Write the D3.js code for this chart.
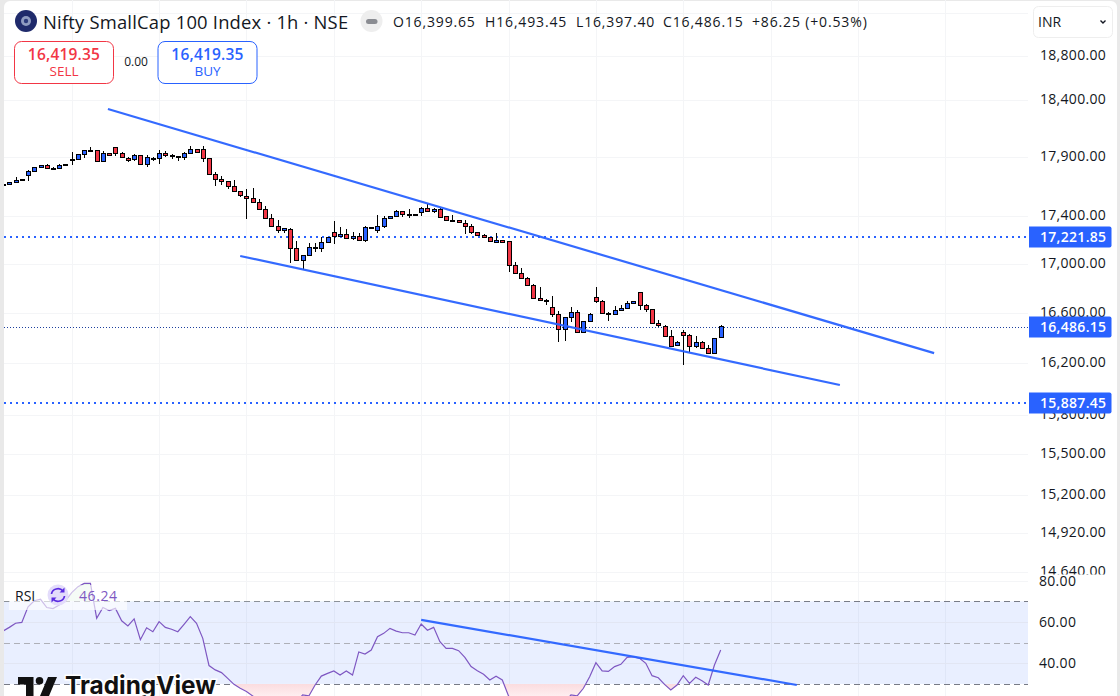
<!DOCTYPE html>
<html>
<head>
<meta charset="utf-8">
<script src="https://cdn.jsdelivr.net/npm/d3@7"></script>
<style>
    html, body { margin: 0; padding: 0; background: #e9e9e9; overflow: hidden; }
    svg { display: block; font-family: "Open Sans", "Noto Sans", sans-serif; }
    .axis path, .axis line { display: none; }
    .axis text { font-size: 14px; fill: #131722; letter-spacing: 0.3px; font-family: "Open Sans", sans-serif; }
</style>
</head>
<body>
<div id="chart"></div>
<script>
// candles
var opens = [17658,17655,17672,17700,17732,17766,17801,17821,17796,17792,17818,17872,17870,17914,17950,17951,17852,17925,17978,17925,17888,17870,17908,17826,17882,17879,17925,17908,17900,17890,17922,17960,17960,17882,17743,17701,17684,17641,17598,17555,17538,17504,17445,17369,17302,17265,17277,17119,17016,17060,17116,17116,17169,17252,17216,17235,17199,17218,17185,17285,17268,17302,17369,17386,17429,17404,17403,17420,17454,17429,17446,17386,17353,17352,17327,17302,17252,17227,17210,17169,17185,17177,16978,16911,16871,16814,16708,16696,16636,16580,16459,16556,16596,16436,16524,16717,16684,16591,16580,16612,16628,16668,16757,16652,16620,16508,16489,16409,16332,16436,16412,16322,16356,16309,16266,16399.65];
var highs = [17662,17675,17718,17703,17778,17806,17824,17832,17806,17832,17832,17934,17920,17954,17978,17954,17943,17927,17980,17934,17896,17919,17910,17908,17890,17951,17943,17919,17902,17934,17989,17962,17986,17884,17760,17726,17686,17692,17600,17615,17624,17530,17474,17406,17355,17288,17285,17180,17063,17160,17160,17210,17213,17347,17293,17279,17252,17243,17302,17299,17398,17386,17389,17437,17431,17446,17405,17463,17488,17457,17454,17388,17395,17354,17355,17319,17254,17235,17212,17243,17187,17179,17002,16953,16879,16822,16800,16706,16725,16604,16561,16636,16612,16526,16588,16800,16692,16596,16644,16652,16684,16686,16759,16660,16622,16532,16492,16452,16364,16452,16420,16404,16364,16332,16390,16493.45];
var lows = [17655,17650,17672,17690,17690,17763,17799,17790,17781,17789,17815,17823,17868,17888,17949,17850,17850,17905,17905,17885,17852,17861,17824,17809,17861,17832,17890,17879,17861,17870,17920,17929,17852,17740,17647,17655,17621,17593,17552,17366,17499,17441,17367,17300,17249,17249,17000,17014,16940,17058,17085,17085,17167,17158,17214,17200,17188,17183,17169,17282,17243,17285,17367,17384,17378,17369,17393,17386,17427,17417,17376,17344,17335,17333,17235,17235,17225,17202,17175,17167,17160,16926,16909,16866,16812,16706,16688,16657,16561,16361,16369,16521,16434,16434,16522,16673,16586,16529,16578,16604,16626,16666,16612,16601,16506,16481,16401,16330,16324,16180,16282,16314,16307,16267,16261,16397.40];
var closes = [17660,17675,17692,17698,17769,17803,17821,17792,17794,17821,17829,17874,17917,17951,17952,17852,17925,17911,17922,17888,17870,17908,17826,17890,17870,17925,17905,17896,17899,17925,17960,17931,17879,17742,17698,17681,17638,17595,17561,17538,17501,17443,17369,17302,17265,17285,17119,17016,17060,17127,17127,17169,17210,17216,17235,17202,17218,17185,17293,17293,17302,17369,17386,17429,17403,17402,17395,17454,17429,17446,17378,17352,17351,17335,17302,17252,17227,17210,17177,17185,17169,16978,16911,16871,16814,16708,16690,16694,16580,16459,16556,16596,16436,16524,16580,16681,16588,16589,16612,16628,16668,16684,16652,16620,16508,16489,16409,16332,16356,16412,16324,16356,16309,16269,16388,16486.15];

// RSI for the same candles (the dips under the pane are guesses)
var rsiValues = [55.6,57.4,59.4,59.8,67.4,70.3,71.0,67.0,66.5,68.2,70.3,74.2,77.1,78.7,78.7,61.8,67.0,65.5,66.6,60.6,58.1,61.5,51.4,57.2,55.3,60.2,57.4,56.5,55.3,58.9,62.6,59.4,52.1,38.9,36.8,35.5,32.7,29.8,27.9,26.3,24.2,22.5,20.5,19.5,20,21,19,21,24.7,24.2,29.5,33.8,35.1,36.3,34.3,36.3,34.3,45.5,44.5,46.4,52.9,54.5,56.9,55.6,54.8,54.8,53.7,59.0,56.0,57.4,50.5,47.2,47.2,46.1,42.9,38.4,36.4,34.7,31.9,33.7,31.9,24.2,22,20.5,19,17,17.5,18,18.5,17,21,24.7,24.2,27.9,33.5,40.3,36.3,36.1,38.4,39.5,42.9,43.2,42.4,40.0,34.0,33.0,29.8,27.1,29.5,34.0,30.3,33.2,31.6,29.5,39.2,46.4];

var priceTicks = [18800,18400,17900,17400,17000,16600,16200,15800,15500,15200,14920,14640];
var rsiTicks = [80,60,40];
var gridIndexes = [11,25,39,53,67,81,95,109,123,137,151];

// drawn levels and trend lines: [candle index, value]
var levels = [17221.85, 15887.45];
var lastPrice = 16486.15;
var upperTrend = [[16.8,18314],[149.2,16271]];
var lowerTrend = [[38,17055],[134.1,16021]];
var rsiTrend = [[67,61.0],[127.2,29.5]];

var blue = "#2962ff", red = "#f23645", ink = "#131722", gridColor = "#f4f5f7", purple = "#7e57c2";
var plotLeft = 4, plotRight = 1028, width = 1120, height = 696;

var x = d3.scaleLinear().domain([0, 115]).range([3.09, 720.7]);
var y = d3.scaleLog().domain([18800, 14640]).range([56, 572]);
// candle values were read against the axis one pixel too high, so they keep that offset
var candleY = y.copy().range([55, 571]);
var rsiY = d3.scaleLinear().domain([80, 40]).range([580.7, 663.3]);

function crisp(v) { return Math.round(v) + 0.5; }

var svg = d3.select("#chart").append("svg").attr("width", width).attr("height", height);
var defs = svg.append("defs");

defs.append("clipPath").attr("id", "plotClip").append("rect")
    .attr("x", plotLeft).attr("y", 0).attr("width", plotRight - plotLeft).attr("height", height);
defs.append("clipPath").attr("id", "priceAxisClip").append("rect")
    .attr("x", plotRight).attr("y", 0).attr("width", 90).attr("height", 574.5);
defs.append("clipPath").attr("id", "aboveBand").append("rect")
    .attr("x", plotLeft).attr("y", 0).attr("width", plotRight - plotLeft).attr("height", rsiY(70));
defs.append("clipPath").attr("id", "belowBand").append("rect")
    .attr("x", plotLeft).attr("y", rsiY(30)).attr("width", plotRight - plotLeft).attr("height", height - rsiY(30));

var redFade = defs.append("linearGradient").attr("id", "redFade")
    .attr("gradientUnits", "userSpaceOnUse").attr("x1", 0).attr("x2", 0).attr("y1", rsiY(30)).attr("y2", 700);
redFade.append("stop").attr("offset", 0).attr("stop-color", "#fbdcdf");
redFade.append("stop").attr("offset", 1).attr("stop-color", "#fff4f5");

// page panel
svg.append("rect").attr("x", plotLeft).attr("y", 1).attr("width", 1113).attr("height", 710)
    .attr("rx", 6).attr("fill", "#fff");

// grid
var grid = svg.append("g").attr("clip-path", "url(#plotClip)");
grid.selectAll(".vGrid").data(gridIndexes).enter().append("line")
    .attr("x1", function(d) { return crisp(x(d)); }).attr("x2", function(d) { return crisp(x(d)); })
    .attr("y1", 0).attr("y2", height)
    .attr("stroke", gridColor).attr("stroke-width", 1);
grid.selectAll(".hGrid").data([19200].concat(priceTicks)).enter().append("line")
    .attr("x1", plotLeft).attr("x2", plotRight)
    .attr("y1", function(d) { return crisp(y(d)); }).attr("y2", function(d) { return crisp(y(d)); })
    .attr("stroke", gridColor);
grid.append("line").attr("x1", plotLeft).attr("x2", plotRight)
    .attr("y1", crisp(rsiY(80))).attr("y2", crisp(rsiY(80))).attr("stroke", gridColor);

// rsi band and guides
var rsiPane = svg.append("g").attr("clip-path", "url(#plotClip)");
rsiPane.append("rect").attr("x", plotLeft).attr("width", plotRight - plotLeft)
    .attr("y", rsiY(70)).attr("height", rsiY(30) - rsiY(70))
    .attr("fill", blue).attr("fill-opacity", 0.1);
rsiPane.selectAll(".rsiGrid").data([60, 40]).enter().append("line")
    .attr("x1", plotLeft).attr("x2", plotRight)
    .attr("y1", function(d) { return crisp(rsiY(d)); }).attr("y2", function(d) { return crisp(rsiY(d)); })
    .attr("stroke", "#e2e6f3");
[[70, "#787b86"], [50, "#aeb0b8"], [30, "#787b86"]].forEach(function(g) {
    rsiPane.append("line")
        .attr("x1", plotLeft).attr("x2", plotRight)
        .attr("y1", crisp(rsiY(g[0]))).attr("y2", crisp(rsiY(g[0])))
        .attr("stroke", g[1]).attr("stroke-width", 1).attr("stroke-dasharray", "6 4");
});

var rsiArea = function(level) {
    return d3.area().x(function(d, i) { return x(i); })
        .y0(rsiY(level)).y1(function(d) { return rsiY(d); })(rsiValues);
};
rsiPane.append("g").attr("clip-path", "url(#aboveBand)").append("path")
    .attr("d", rsiArea(70)).attr("fill", "#e4f4e6");
rsiPane.append("g").attr("clip-path", "url(#belowBand)").append("path")
    .attr("d", rsiArea(30)).attr("fill", "url(#redFade)");

rsiPane.append("path")
    .attr("d", d3.line().x(function(d, i) { return x(i); }).y(function(d) { return rsiY(d); })(rsiValues))
    .attr("fill", "none").attr("stroke", purple).attr("stroke-width", 1.2);

// legend plate sits over the rsi line
svg.append("rect").attr("x", 9).attr("y", 585).attr("width", 118).attr("height", 25)
    .attr("fill", "#fff").attr("fill-opacity", 0.62);

// price levels
var marks = svg.append("g").attr("clip-path", "url(#plotClip)");
marks.selectAll(".level").data(levels).enter().append("line")
    .attr("x1", plotLeft).attr("x2", plotRight)
    .attr("y1", function(d) { return Math.round(y(d)); }).attr("y2", function(d) { return Math.round(y(d)); })
    .attr("stroke", blue).attr("stroke-width", 2).attr("stroke-dasharray", "2 4");
marks.append("line")
    .attr("x1", plotLeft).attr("x2", plotRight)
    .attr("y1", crisp(y(lastPrice))).attr("y2", crisp(y(lastPrice)))
    .attr("stroke", "#1c3f9e").attr("stroke-width", 1).attr("stroke-dasharray", "1 2");

// candles
var candles = marks.selectAll(".candle").data(closes).enter().append("g").attr("class", "candle");
candles.append("line")
    .attr("x1", function(d, i) { return crisp(x(i)); }).attr("x2", function(d, i) { return crisp(x(i)); })
    .attr("y1", function(d, i) { return Math.round(candleY(highs[i])); }).attr("y2", function(d, i) { return Math.round(candleY(lows[i])); })
    .attr("stroke", "#000").attr("stroke-width", 1);
candles.append("rect")
    .attr("x", function(d, i) { return Math.round(x(i)) - 1.5; })
    .attr("width", 4)
    .attr("y", function(d, i) { return crisp(candleY(Math.max(opens[i], d))); })
    .attr("height", function(d, i) { return Math.max(1, Math.round(Math.abs(candleY(opens[i]) - candleY(d)))); })
    .attr("fill", function(d, i) { return d >= opens[i] ? blue : red; })
    .attr("stroke", "#000").attr("stroke-width", 1);

// trend lines
[[upperTrend, candleY], [lowerTrend, candleY], [rsiTrend, rsiY]].forEach(function(t) {
    marks.append("line")
        .attr("x1", x(t[0][0][0])).attr("y1", t[1](t[0][0][1]))
        .attr("x2", x(t[0][1][0])).attr("y2", t[1](t[0][1][1]))
        .attr("stroke", blue).attr("stroke-width", 2.2).attr("stroke-opacity", 0.95);
});

// axes
svg.append("g").attr("clip-path", "url(#priceAxisClip)")
    .append("g").attr("class", "axis")
    .attr("transform", "translate(1040,-1)")
    .call(d3.axisRight(y).tickValues(priceTicks).tickSize(0).tickPadding(0).tickFormat(d3.format(",.2f")));
svg.append("g").attr("class", "axis")
    .attr("transform", "translate(1039,0)")
    .call(d3.axisRight(rsiY).tickValues(rsiTicks).tickSize(0).tickPadding(0).tickFormat(d3.format(".2f")));

// price tags
var tags = svg.selectAll(".tag").data(levels.concat([lastPrice])).enter().append("g")
    .attr("transform", function(d) { return "translate(1029," + Math.round(y(d)) + ")"; });
tags.append("path")
    .attr("d", "M0,-10.5 H80.5 a2,2 0 0 1 2,2 V8.5 a2,2 0 0 1 -2,2 H0 Z")
    .attr("fill", blue);
tags.append("text").attr("x", 11).attr("y", 5)
    .attr("font-size", 14).attr("font-weight", 600).attr("letter-spacing", 0.3).attr("fill", "#fff")
    .text(function(d) { return d3.format(",.2f")(d); });

// header
var head = svg.append("g");
head.append("circle").attr("cx", 26).attr("cy", 21).attr("r", 11).attr("fill", "#1f2a6b");
head.append("circle").attr("cx", 26).attr("cy", 21).attr("r", 5).attr("fill", "#8f9bc0");
head.append("circle").attr("cx", 26).attr("cy", 21).attr("r", 2.2).attr("fill", "#2c3a7c");
head.append("text").attr("x", 43).attr("y", 29).attr("font-size", 18.4).attr("letter-spacing", 0.2).attr("fill", ink)
    .text("Nifty SmallCap 100 Index · 1h · NSE");
head.append("circle").attr("cx", 371.5).attr("cy", 21).attr("r", 11).attr("fill", "#eeeeee");
head.append("rect").attr("x", 366).attr("y", 19).attr("width", 11.5).attr("height", 5).attr("rx", 2.5).attr("fill", "#8a8c92");

// o/h/l/c strip, each piece placed where the reference has it
[["O16,399.65", 393], ["H16,493.45", 485], ["L16,397.40", 576], ["C16,486.15", 663], ["+86.25 (+0.53%)", 752]].forEach(function(t) {
    head.append("text").attr("x", t[1]).attr("y", 26.5).attr("font-size", 14).attr("letter-spacing", 0.85).attr("fill", ink).text(t[0]);
});

function tradeBox(left, color, label) {
    var g = svg.append("g");
    g.append("rect").attr("x", left).attr("y", 41.5).attr("width", 99).attr("height", 42).attr("rx", 7)
        .attr("fill", "#fff").attr("stroke", color).attr("stroke-width", 1);
    g.append("text").attr("x", left + 49.5).attr("y", 60).attr("text-anchor", "middle")
        .attr("font-size", 15.5).attr("font-weight", 600).attr("letter-spacing", 0.2).attr("fill", color).text("16,419.35");
    g.append("text").attr("x", left + 49.5).attr("y", 76).attr("text-anchor", "middle")
        .attr("font-size", 13.5).attr("fill", color).text(label);
}
tradeBox(14.5, red, "SELL");
tradeBox(158, blue, "BUY");
svg.append("text").attr("x", 136).attr("y", 66).attr("text-anchor", "middle").attr("font-size", 12).attr("fill", ink).text("0.00");

// currency box
svg.append("rect").attr("x", 1033.5).attr("y", 6.5).attr("width", 79).attr("height", 31).attr("rx", 5)
    .attr("fill", "#fff").attr("stroke", "#eeeeee");
svg.append("text").attr("x", 1038).attr("y", 27).attr("font-size", 14).attr("fill", ink).text("INR");
svg.append("path").attr("d", "M1100.5,20.5 l2.5,2.5 l2.5,-2.5").attr("fill", "none").attr("stroke", ink).attr("stroke-width", 1.4);

// rsi legend
svg.append("text").attr("x", 15).attr("y", 601).attr("font-size", 14).attr("fill", ink).text("RSI");
svg.append("circle").attr("cx", 58).attr("cy", 595).attr("r", 10.5).attr("fill", "#e3dcfb");
svg.append("path").attr("d", "M51.5,594 a6.5,6 0 0 1 11.5,-3 M64.5,596 a6.5,6 0 0 1 -11.5,3")
    .attr("fill", "none").attr("stroke", "#5b2be0").attr("stroke-width", 1.7);
svg.append("path").attr("d", "M64.5,587.5 v5 h-5 Z M51.5,602.5 v-5 h5 Z").attr("fill", "#5b2be0");
svg.append("text").attr("x", 79).attr("y", 601).attr("font-size", 14).attr("letter-spacing", 0.6).attr("fill", purple).text("46.24");

// watermark
var logo = svg.append("g");
logo.append("path").attr("d", "M18,677 H33.5 V696 H26 V684.5 H18 Z M48,677 H57 L49,696 H40 Z").attr("fill", "#111");
logo.append("circle").attr("cx", 39.5).attr("cy", 680.8).attr("r", 3.8).attr("fill", "#111");
logo.append("text").attr("x", 65).attr("y", 694).attr("font-size", 24.4).attr("font-weight", 700)
    .attr("font-family", "Inter, 'Open Sans', sans-serif").attr("fill", "#111")
    .attr("stroke", "#fff").attr("stroke-width", 3).attr("paint-order", "stroke").text("TradingView");
</script>
</body>
</html>
